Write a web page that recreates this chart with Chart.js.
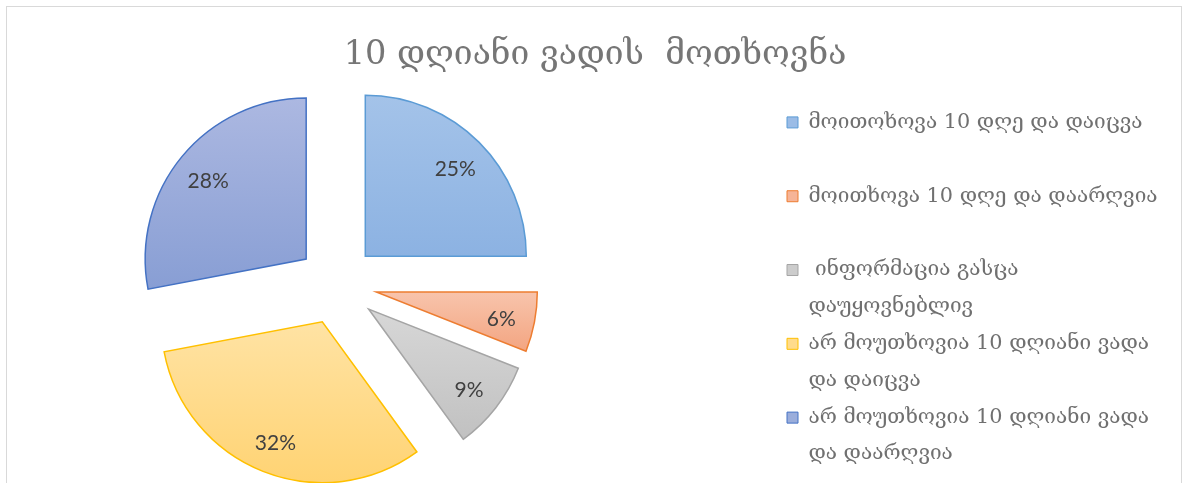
<!DOCTYPE html>
<html>
<head>
<meta charset="utf-8">
<script src="https://cdn.jsdelivr.net/npm/chart.js@4.4.1/dist/chart.umd.min.js"></script>
<style>
  html, body { margin: 0; padding: 0; background: #fff; }
  #wrap { position: relative; width: 1183px; height: 483px; overflow: hidden; }
  #frame { position: absolute; left: 6px; top: 6px; width: 1174px; height: 520px; border: 1px solid #d9d9d9; }
  canvas { position: absolute; left: 0; top: 0; }
</style>
</head>
<body>
<div id="wrap">
  <div id="frame"></div>
  <canvas id="pie" width="1183" height="483"></canvas>
</div>
<script>
var chartTitle = '10 დღიანი ვადის  მოთხოვნა';

// legend text, already split the way the original wraps it
var categories = [
  ['მოითოხოვა 10 დღე და დაიცვა'],
  ['მოითხოვა 10 დღე და დაარღვია'],
  [' ინფორმაცია გასცა', 'დაუყოვნებლივ'],
  ['არ მოუთხოვია 10 დღიანი ვადა', 'და დაიცვა'],
  ['არ მოუთხოვია 10 დღიანი ვადა', 'და დაარღვია']
];
var values = [25, 6, 9, 32, 28];

var topColors    = ['#a4c3e9', '#f8c4ac', '#d7d7d7', '#ffe3a4', '#acb8e1'];
var bottomColors = ['#8cb2e2', '#f3a581', '#c1c1c1', '#ffd373', '#889ed4'];
var flatColors   = ['#9bbce6', '#f6b497', '#cccccc', '#ffdb8c', '#9aaddb'];
var borderColors = ['#5b9bd5', '#ed7d31', '#a5a5a5', '#ffc000', '#4472c4'];

var EXPLODE = 40;       // px every slice is pulled out
var LABEL_POS = 0.79;   // label distance, fraction of radius
var georgian = "'DejaVu Serif', 'DejaVu Sans', serif";

// pull slices out and give each one its own top-to-bottom gradient
var explode = {
  id: 'explode',
  afterDatasetUpdate: function (chart, args) {
    args.meta.data.forEach(function (arc, i) {
      var mid = (arc.startAngle + arc.endAngle) / 2;
      arc.x += Math.cos(mid) * EXPLODE;
      arc.y += Math.sin(mid) * EXPLODE;

      var r = arc.outerRadius;
      var ys = [arc.y, arc.y + Math.sin(arc.startAngle) * r, arc.y + Math.sin(arc.endAngle) * r];
      [-Math.PI / 2, Math.PI / 2, 3 * Math.PI / 2].forEach(function (a) {
        if (a > arc.startAngle && a < arc.endAngle) ys.push(arc.y + Math.sin(a) * r);
      });
      var g = chart.ctx.createLinearGradient(0, Math.min.apply(null, ys), 0, Math.max.apply(null, ys));
      g.addColorStop(0, topColors[i]);
      g.addColorStop(1, bottomColors[i]);
      arc.options = Object.assign({}, arc.options, { backgroundColor: g });
    });
  }
};

var pctLabels = {
  id: 'pctLabels',
  afterDatasetsDraw: function (chart) {
    var ctx = chart.ctx;
    var data = chart.data.datasets[0].data;
    var total = data.reduce(function (a, b) { return a + b; }, 0);
    ctx.save();
    ctx.font = '21px Lato';
    ctx.fillStyle = '#404040';
    ctx.textAlign = 'center';
    ctx.textBaseline = 'middle';
    chart.getDatasetMeta(0).data.forEach(function (arc, i) {
      var mid = (arc.startAngle + arc.endAngle) / 2;
      var r = arc.outerRadius * LABEL_POS;
      ctx.fillText(Math.round(data[i] / total * 100) + '%',
        arc.x + Math.cos(mid) * r, arc.y + Math.sin(mid) * r + 3);
    });
    ctx.restore();
  }
};

new Chart(document.getElementById('pie'), {
  type: 'pie',
  data: {
    labels: categories,
    datasets: [{
      data: values,
      backgroundColor: flatColors,
      borderColor: borderColors,
      borderWidth: 1.5,
      borderJoinStyle: 'miter',
      radius: 161
    }]
  },
  options: {
    responsive: false,
    devicePixelRatio: 1,
    animation: false,
    events: [],
    layout: { padding: { left: 24, right: 17, top: 0, bottom: 0 } },
    plugins: {
      tooltip: { enabled: false },
      title: {
        display: true,
        text: chartTitle,
        color: '#767676',
        font: { family: georgian, size: 33.6, weight: 'normal', lineHeight: 1.2 },
        padding: { top: 34.8, bottom: 10.9 }
      },
      // empty spacer between the pie and the legend
      subtitle: {
        display: true,
        text: ' ',
        position: 'right',
        weight: 500,
        fullSize: false,
        font: { size: 10, lineHeight: 1 },
        padding: { top: 126, bottom: 0 }
      },
      legend: {
        position: 'right',
        align: 'start',
        fullSize: false,
        maxWidth: 380,
        title: { display: true, text: ' ', font: { size: 10, lineHeight: 1 }, padding: 7.5 },
        labels: {
          boxWidth: 11,
          boxHeight: 11,
          padding: 1,
          color: '#707070',
          font: { family: georgian, size: 20.8, lineHeight: 1.75 },
          generateLabels: function (chart) {
            var meta = chart.getDatasetMeta(0);
            return categories.map(function (lines, i) {
              var style = meta.controller.getStyle(i);
              return {
                text: lines.length > 1 ? lines : [lines[0], ''],
                fillStyle: style.backgroundColor,
                strokeStyle: style.borderColor,
                lineWidth: 1,
                fontColor: '#707070',
                hidden: false,
                index: i
              };
            });
          }
        }
      }
    }
  },
  plugins: [explode, pctLabels]
});
</script>
</body>
</html>
